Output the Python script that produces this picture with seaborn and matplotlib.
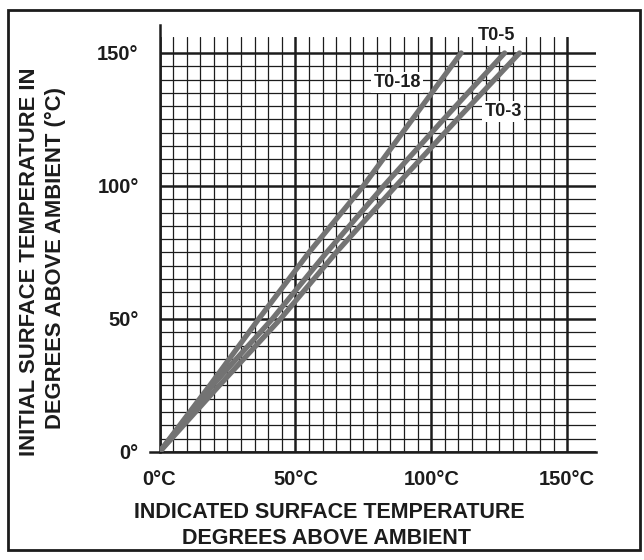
import matplotlib
matplotlib.use("Agg")
import matplotlib.pyplot as plt
import seaborn as sns
import pandas as pd
import numpy as np
from matplotlib.patches import Rectangle

# values: indicated temp (x) vs initial temp (y), deg above ambient
init_temp = [0, 25, 50, 75, 100, 125, 150]
t018_x = [0, 18.5, 36.5, 55, 75, 93, 111]
t05_x = [0, 19.5, 41.5, 61.5, 82.5, 104.5, 127]
t03_x = [0, 22, 44.5, 65, 87, 109.5, 132.5]

major_ticks = [0, 50, 100, 150]
x_tick_labels = ["0°C", "50°C", "100°C", "150°C"]
y_tick_labels = ["0°", "50°", "100°", "150°"]

df = pd.concat([
    pd.DataFrame({"x": t018_x, "y": init_temp, "case": "T0-18"}),
    pd.DataFrame({"x": t05_x, "y": init_temp, "case": "T0-5"}),
    pd.DataFrame({"x": t03_x, "y": init_temp, "case": "T0-3"}),
])

sns.set_style("white")
plt.rcParams["font.family"] = ["Liberation Sans", "DejaVu Sans"]
plt.rcParams["font.weight"] = "bold"
ink = "#1c1c1c"
curve_gray = "#737373"
fs = 14.5

fig = plt.figure(figsize=(6.44, 5.6), dpi=100)
ax = fig.add_axes([0.2477, 0.1929, 0.6772, 0.741])

sns.lineplot(data=df, x="x", y="y", hue="case", units="case", estimator=None,
             sort=False, palette={"T0-18": curve_gray, "T0-5": curve_gray, "T0-3": curve_gray},
             linewidth=3.8, legend=False, ax=ax, zorder=3)

ax.set_xlim(0, 160.5)
ax.set_ylim(0, 156)
ax.set_xticks(major_ticks)
ax.set_yticks(major_ticks)
ax.set_xticks(np.arange(0, 151, 5), minor=True)
ax.set_yticks(np.arange(0, 151, 5), minor=True)
ax.set_xticklabels(x_tick_labels, fontsize=fs, color=ink, fontweight="bold")
ax.set_yticklabels(y_tick_labels, fontsize=fs, color=ink, fontweight="bold")
ax.tick_params(which="major", direction="out", length=6, width=1.8, color=ink)
ax.tick_params(axis="x", which="major", pad=7)
ax.tick_params(axis="y", which="major", pad=9)
ax.tick_params(which="minor", length=0)
ax.grid(which="minor", color=ink, linewidth=0.9)
ax.grid(which="major", color=ink, linewidth=1.8)
ax.set_axisbelow(True)
ax.set_xlabel("")
ax.set_ylabel("")

for side in ["top", "right"]:
    ax.spines[side].set_visible(False)
for side in ["left", "bottom"]:
    ax.spines[side].set_color(ink)
    ax.spines[side].set_linewidth(1.8)
ax.spines["left"].set_bounds(0, 160.5)
ax.spines["bottom"].set_bounds(-3.5, 160.5)

box = dict(facecolor="white", edgecolor="none", pad=1.5)
ax.text(87.5, 139, "T0-18", fontsize=13, color=ink, ha="center", va="center",
        bbox=box, zorder=4, fontweight="bold")
ax.text(124, 156.5, "T0-5", fontsize=13, color=ink, ha="center", va="center",
        bbox=box, zorder=4, clip_on=False, fontweight="bold")
ax.text(126.5, 128, "T0-3", fontsize=13, color=ink, ha="center", va="center",
        bbox=box, zorder=4, fontweight="bold")

fig.text(329 / 644, 1 - 513 / 560, "INDICATED SURFACE TEMPERATURE", fontsize=15.5,
         color=ink, ha="center", va="center", fontweight="bold")
fig.text(327 / 644, 1 - 538 / 560, "DEGREES ABOVE AMBIENT", fontsize=15.5,
         color=ink, ha="center", va="center", fontweight="bold")
fig.text(30 / 644, 1 - 262 / 560, "INITIAL SURFACE TEMPERATURE IN", fontsize=15.8,
         color=ink, ha="center", va="center", rotation=90, fontweight="bold")
fig.text(55 / 644, 1 - 258 / 560, "DEGREES ABOVE AMBIENT (°C)", fontsize=15.8,
         color=ink, ha="center", va="center", rotation=90, fontweight="bold")

fig.patches.append(Rectangle((8 / 644, 10 / 560), 632 / 644, 540 / 560,
                             transform=fig.transFigure, fill=False, lw=2, ec=ink))

fig.savefig("out.png", dpi=100)
